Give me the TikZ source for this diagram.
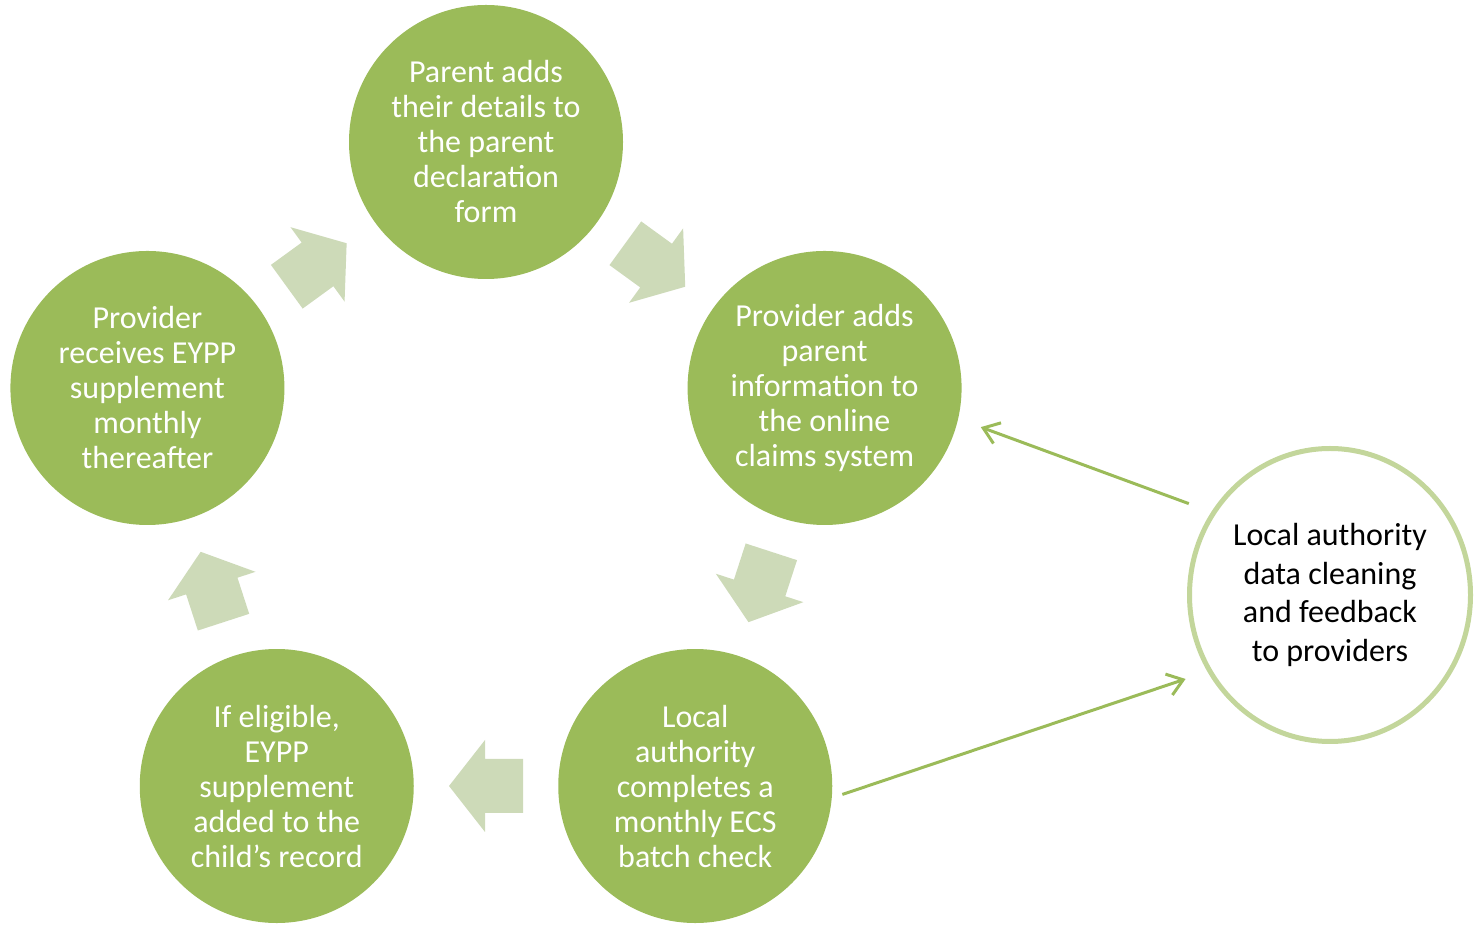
\documentclass[tikz,border=0pt]{standalone}
\usepackage{fontspec}
\setmainfont{Carlito}
\usetikzlibrary{calc,arrows.meta,shapes.geometric}
\definecolor{cyclegreen}{HTML}{9BBB59}
\definecolor{arrowgreen}{HTML}{CDDAB8}
\definecolor{ringgreen}{HTML}{C3D69B}

\begin{document}
\begin{tikzpicture}[x=1pt,y=1pt,>={Straight Barb[length=15pt,width=22pt]},
  stage/.style={circle, fill=cyclegreen, text=white, minimum size=274pt,
    inner sep=0pt, align=center, font=\fontsize{32}{35}\selectfont},
  feedback/.style={ellipse, draw=ringgreen, line width=5pt, fill=white,
    minimum width=281pt, minimum height=293pt, inner sep=0pt, align=center,
    font=\fontsize{32}{38.5}\selectfont},
  link/.style={->, draw=cyclegreen, line width=3pt},
  blockarrow/.style={fill=arrowgreen}]
\useasboundingbox (0,0) rectangle (1478,924);

\coordinate (hub) at (486,426);

\node[stage] (declare) at ($(hub)+(90:356)$)
  {Parent adds\\their details to\\the parent\\declaration\\form};
\node[stage] (claims) at ($(hub)+(18:356)$)
  {Provider adds\\parent\\information to\\the online\\claims system};
\node[stage] (ecs) at ($(hub)+(-54:356)$)
  {Local\\authority\\completes a\\monthly ECS\\batch check};
\node[stage] (eligible) at ($(hub)+(-126:356)$)
  {If eligible,\\EYPP\\supplement\\added to the\\child’s record};
\node[stage] (supplement) at ($(hub)+(162:356)$)
  {Provider\\receives EYPP\\supplement\\monthly\\thereafter};

\node[feedback] (cleaning) at (1330,329)
  {Local authority\\data cleaning\\and feedback\\to providers};

% block arrows round the cycle
\foreach \a in {54,-18,-90,-162,126}{
  \begin{scope}[shift={($(hub)+(\a:288)$)}, rotate=\a-90]
    \fill[blockarrow] (-37,-27) -- (1,-27) -- (1,-46) -- (37,0)
      -- (1,46) -- (1,27) -- (-37,27) -- cycle;
  \end{scope}
}

\draw[link, shorten <=24pt, shorten >=24pt] (cleaning.145.8) -- (claims.-13.3);
\draw[link, shorten <=11pt, shorten >=23pt] (ecs.-5.4) -- (cleaning.212.4);
\end{tikzpicture}
\end{document}
